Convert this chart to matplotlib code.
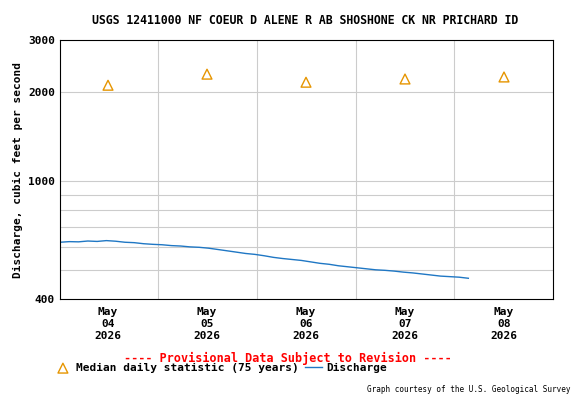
import matplotlib
matplotlib.use("Agg")
import matplotlib.pyplot as plt
from matplotlib.ticker import FixedLocator, NullFormatter

median_days = [4, 5, 6, 7, 8]
median_vals = [2110, 2300, 2160, 2215, 2250]

# discharge every 2.25 hours starting near May 3 12:20 (day offsets)
q_start = 3.515
q_step = 2.25/24
q_vals = [622, 625, 624, 628, 626, 630, 627, 622, 620, 615, 612, 610, 606,
          604, 600, 598, 594, 588, 582, 576, 570, 566, 560, 553, 548, 544,
          540, 534, 528, 524, 518, 514, 510, 506, 502, 500, 497, 493, 490,
          486, 482, 478, 476, 474, 470]
q_days = [q_start + i*q_step for i in range(len(q_vals))]

tick_days = [4, 5, 6, 7, 8]
tick_labels = ["May\n04\n2026", "May\n05\n2026", "May\n06\n2026", "May\n07\n2026", "May\n08\n2026"]

plt.rcParams['font.family'] = 'DejaVu Sans Mono'
plt.rcParams['font.weight'] = 'bold'
fig = plt.figure(figsize=(5.76, 4), dpi=100)
ax = fig.add_axes([60/576, 1-299/400, 493/576, 259/400])
ax.set_yscale('log')
ax.set_ylim(400, 3000)
ax.set_xlim(3.515, 8.495)
ax.yaxis.set_major_locator(FixedLocator([400, 1000, 2000, 3000]))
ax.yaxis.set_major_formatter(matplotlib.ticker.FixedFormatter(["400", "1000", "2000", "3000"]))
ax.yaxis.set_minor_locator(FixedLocator([500, 600, 700, 800, 900]))
ax.yaxis.set_minor_formatter(NullFormatter())
ax.set_xticks(tick_days)
ax.set_xticklabels(tick_labels, fontsize=8, fontweight='bold')
ax.tick_params(axis='y', labelsize=8, length=0, which='both')
ax.tick_params(axis='x', length=0, pad=6)
for d in [4.5, 5.5, 6.5, 7.5]:
    ax.axvline(d, color='#cccccc', lw=0.8, zorder=0)
for v in [500, 600, 700, 800, 900, 1000, 2000]:
    ax.axhline(v, color='#cccccc', lw=0.8, zorder=0)
ax.scatter(median_days, median_vals, marker='^', facecolors='none', edgecolors='#e69500', s=50, lw=1, label='Median daily statistic (75 years)', zorder=3)
ax.plot(q_days, q_vals, color='#1f77c4', lw=1, label='Discharge')
ax.set_ylabel("Discharge, cubic feet per second", fontsize=8, fontweight='bold')
fig.text(0.53, 1-20/400, "USGS 12411000 NF COEUR D ALENE R AB SHOSHONE CK NR PRICHARD ID", ha='center', va='center', fontsize=8.3, fontweight='bold')
fig.text(0.5, 1-358/400, "---- Provisional Data Subject to Revision ----", ha='center', va='center', fontsize=8.5, fontweight='bold', color='red')
ax.legend(loc='upper left', bbox_to_anchor=(-0.02, -0.23), ncol=2, frameon=False, fontsize=8, handlelength=1.5, columnspacing=0.6, handletextpad=0.4, borderaxespad=0)
fig.text(0.99, 1-390/400, "Graph courtesy of the U.S. Geological Survey", ha='right', va='center', fontsize=5.5, fontweight='normal')
fig.savefig("out.png", dpi=100)
